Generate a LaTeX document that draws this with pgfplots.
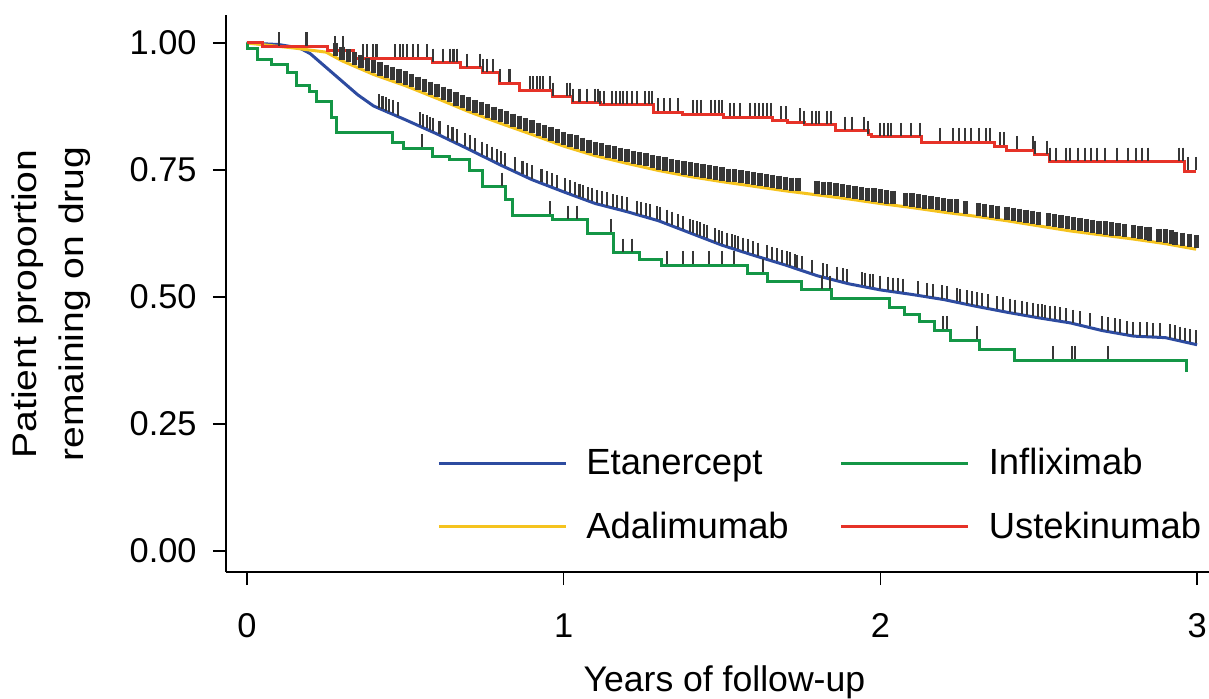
\documentclass[border=0pt]{standalone}
\usepackage{fontspec}
\setmainfont{Liberation Sans}
\usepackage{pgfplots}
\pgfplotsset{compat=1.18}
\usepackage{pgfplotstable}

\definecolor{etan}{RGB}{45,75,160}
\definecolor{adal}{RGB}{245,195,30}
\definecolor{infl}{RGB}{20,150,70}
\definecolor{uste}{RGB}{230,50,40}
\definecolor{cens}{RGB}{55,55,55}

% survival curves
\pgfplotstableread{
x y
0     1.000
0.10  0.997
0.167 0.990
0.20  0.979
0.25  0.952
0.30  0.925
0.35  0.898
0.40  0.876
0.50  0.849
0.60  0.821
0.70  0.791
0.80  0.760
0.90  0.731
1.00  0.707
1.10  0.684
1.20  0.668
1.30  0.650
1.40  0.626
1.50  0.602
1.60  0.582
1.70  0.563
1.80  0.542
1.90  0.526
2.00  0.514
2.10  0.505
2.20  0.495
2.30  0.482
2.40  0.470
2.50  0.459
2.60  0.449
2.70  0.434
2.80  0.423
2.90  0.420
3.00  0.406
}\etancurve

\pgfplotstableread{
x y
0     1.000
0.15  0.990
0.25  0.982
0.30  0.965
0.40  0.938
0.50  0.916
0.60  0.891
0.70  0.865
0.80  0.842
0.90  0.820
1.00  0.797
1.10  0.778
1.20  0.763
1.30  0.749
1.40  0.737
1.50  0.727
1.60  0.718
1.70  0.709
1.80  0.701
1.90  0.693
2.00  0.684
2.10  0.676
2.20  0.667
2.30  0.659
2.40  0.650
2.50  0.640
2.60  0.630
2.70  0.622
2.80  0.614
2.90  0.605
2.997 0.594
}\adalcurve

\pgfplotstableread{
x y
0     1.000
0.003 0.990
0.035 0.967
0.079 0.957
0.129 0.941
0.158 0.917
0.199 0.904
0.221 0.884
0.268 0.854
0.284 0.823
0.461 0.805
0.493 0.793
0.587 0.776
0.641 0.770
0.704 0.750
0.745 0.717
0.815 0.691
0.840 0.661
0.966 0.652
1.074 0.626
1.159 0.587
1.241 0.573
1.310 0.563
1.579 0.547
1.645 0.530
1.752 0.514
1.847 0.498
2.030 0.480
2.075 0.465
2.125 0.451
2.172 0.435
2.220 0.415
2.314 0.396
2.422 0.376
2.968 0.352
}\inflcurve

\pgfplotstableread{
x y
0     1.000
0.05  0.993
0.253 0.986
0.335 0.970
0.587 0.961
0.673 0.951
0.745 0.941
0.799 0.921
0.862 0.907
0.966 0.894
1.029 0.882
1.115 0.878
1.285 0.864
1.374 0.860
1.506 0.854
1.661 0.848
1.708 0.844
1.759 0.839
1.857 0.827
1.961 0.819
1.973 0.815
2.131 0.805
2.359 0.797
2.397 0.789
2.488 0.780
2.535 0.766
2.959 0.748
2.997 0.748
}\ustecurve

% censoring ticks
\pgfplotstableread{
x y
0.417 0.871
0.429 0.868
0.439 0.865
0.448 0.862
0.461 0.860
0.477 0.855
0.546 0.836
0.556 0.833
0.568 0.830
0.578 0.827
0.587 0.825
0.609 0.818
0.635 0.811
0.650 0.806
0.663 0.802
0.688 0.795
0.704 0.790
0.720 0.785
0.742 0.778
0.758 0.773
0.774 0.768
0.789 0.763
0.802 0.759
0.815 0.756
0.846 0.747
0.871 0.740
0.884 0.736
0.900 0.731
0.931 0.724
0.947 0.720
0.963 0.716
0.979 0.712
1.004 0.706
1.020 0.702
1.036 0.699
1.051 0.695
1.061 0.693
1.077 0.689
1.089 0.687
1.105 0.683
1.121 0.681
1.137 0.678
1.156 0.675
1.168 0.673
1.184 0.671
1.200 0.668
1.231 0.662
1.244 0.660
1.260 0.657
1.273 0.655
1.295 0.651
1.304 0.649
1.326 0.644
1.342 0.640
1.361 0.635
1.377 0.632
1.399 0.626
1.408 0.624
1.421 0.621
1.430 0.619
1.443 0.616
1.452 0.614
1.478 0.607
1.491 0.604
1.500 0.602
1.516 0.599
1.531 0.596
1.541 0.594
1.550 0.592
1.566 0.589
1.582 0.586
1.598 0.582
1.614 0.579
1.642 0.574
1.658 0.571
1.674 0.568
1.689 0.565
1.705 0.562
1.715 0.560
1.730 0.557
1.737 0.555
1.752 0.553
1.784 0.545
1.819 0.539
1.831 0.537
1.863 0.532
1.882 0.529
1.895 0.527
1.942 0.521
1.951 0.520
1.967 0.518
1.977 0.517
1.999 0.514
2.024 0.512
2.040 0.510
2.056 0.509
2.071 0.508
2.119 0.503
2.147 0.500
2.166 0.498
2.195 0.495
2.210 0.494
2.242 0.490
2.251 0.488
2.273 0.485
2.289 0.483
2.305 0.481
2.321 0.480
2.340 0.477
2.368 0.474
2.387 0.472
2.409 0.469
2.425 0.467
2.447 0.465
2.463 0.463
2.482 0.461
2.498 0.459
2.510 0.458
2.520 0.457
2.536 0.455
2.551 0.454
2.567 0.452
2.586 0.450
2.608 0.447
2.630 0.444
2.662 0.440
2.700 0.434
2.719 0.432
2.741 0.430
2.757 0.428
2.779 0.425
2.798 0.423
2.820 0.422
2.842 0.422
2.861 0.421
2.883 0.421
2.914 0.418
2.930 0.416
2.946 0.414
2.962 0.412
2.978 0.409
2.997 0.407
}\etancens

\pgfplotstableread{
x y
0.28 0.972
0.30 0.965
0.32 0.960
0.34 0.954
0.36 0.949
0.38 0.943
0.40 0.938
0.42 0.934
0.44 0.929
0.46 0.925
0.48 0.920
0.50 0.916
0.52 0.911
0.54 0.906
0.56 0.901
0.58 0.896
0.60 0.891
0.62 0.886
0.64 0.881
0.66 0.875
0.68 0.870
0.70 0.865
0.72 0.860
0.74 0.856
0.76 0.851
0.78 0.847
0.80 0.842
0.82 0.838
0.84 0.833
0.86 0.829
0.88 0.824
0.90 0.820
0.92 0.815
0.94 0.811
0.96 0.806
0.98 0.802
1.00 0.797
1.02 0.793
1.04 0.790
1.06 0.786
1.08 0.782
1.10 0.778
1.12 0.775
1.14 0.772
1.16 0.769
1.18 0.766
1.20 0.763
1.22 0.760
1.24 0.757
1.26 0.755
1.28 0.752
1.30 0.749
1.32 0.747
1.34 0.744
1.36 0.742
1.38 0.739
1.40 0.737
1.42 0.735
1.44 0.733
1.46 0.731
1.48 0.729
1.50 0.727
1.52 0.725
1.54 0.724
1.56 0.722
1.58 0.720
1.60 0.718
1.62 0.716
1.64 0.714
1.66 0.713
1.68 0.711
1.70 0.709
1.72 0.707
1.74 0.706
1.80 0.701
1.82 0.699
1.84 0.698
1.86 0.696
1.88 0.694
1.90 0.693
1.92 0.691
1.94 0.689
1.96 0.687
1.98 0.686
2.00 0.684
2.02 0.682
2.04 0.681
2.08 0.677
2.10 0.676
2.12 0.674
2.14 0.672
2.16 0.671
2.18 0.669
2.20 0.667
2.22 0.665
2.24 0.664
2.27 0.661
2.31 0.658
2.33 0.656
2.35 0.654
2.37 0.652
2.40 0.650
2.42 0.648
2.44 0.646
2.46 0.644
2.48 0.642
2.50 0.640
2.53 0.637
2.55 0.635
2.57 0.633
2.59 0.631
2.61 0.629
2.63 0.628
2.65 0.626
2.67 0.624
2.69 0.622
2.71 0.621
2.73 0.619
2.75 0.618
2.77 0.616
2.80 0.614
2.82 0.612
2.84 0.610
2.85 0.609
2.88 0.606
2.90 0.605
2.92 0.603
2.93 0.601
2.955 0.599
2.975 0.597
2.997 0.594
}\adalcens

\pgfplotstableread{
x y
0.553 0.793
0.805 0.717
0.957 0.661
1.014 0.652
1.042 0.652
1.150 0.626
1.187 0.587
1.216 0.587
1.326 0.563
1.377 0.563
1.408 0.563
1.459 0.563
1.500 0.563
1.538 0.563
1.629 0.547
1.816 0.514
1.841 0.514
2.198 0.435
2.210 0.435
2.305 0.415
2.545 0.376
2.605 0.376
2.614 0.376
2.719 0.376
}\inflcens

\pgfplotstableread{
x y
0.101 0.993
0.189 0.993
0.278 0.986
0.303 0.986
0.366 0.970
0.379 0.970
0.398 0.970
0.410 0.970
0.467 0.970
0.483 0.970
0.493 0.970
0.505 0.970
0.524 0.970
0.540 0.970
0.568 0.970
0.587 0.961
0.619 0.961
0.641 0.961
0.653 0.961
0.663 0.961
0.695 0.951
0.736 0.951
0.745 0.941
0.758 0.941
0.777 0.941
0.799 0.921
0.830 0.921
0.894 0.907
0.903 0.907
0.916 0.907
0.925 0.907
0.935 0.907
0.957 0.907
0.966 0.894
1.010 0.894
1.020 0.894
1.029 0.882
1.051 0.882
1.074 0.882
1.099 0.882
1.108 0.882
1.115 0.878
1.127 0.878
1.153 0.878
1.165 0.878
1.178 0.878
1.187 0.878
1.200 0.878
1.216 0.878
1.231 0.878
1.257 0.878
1.270 0.878
1.279 0.878
1.298 0.864
1.317 0.864
1.336 0.864
1.361 0.864
1.408 0.860
1.421 0.860
1.434 0.860
1.465 0.860
1.478 0.860
1.491 0.860
1.500 0.860
1.525 0.854
1.538 0.854
1.557 0.854
1.588 0.854
1.604 0.854
1.617 0.854
1.629 0.854
1.642 0.854
1.655 0.854
1.686 0.848
1.702 0.848
1.746 0.844
1.759 0.839
1.784 0.839
1.797 0.839
1.806 0.839
1.831 0.839
1.844 0.839
1.888 0.827
1.910 0.827
1.948 0.827
1.961 0.819
1.999 0.815
2.011 0.815
2.024 0.815
2.033 0.815
2.065 0.815
2.097 0.815
2.125 0.815
2.188 0.805
2.229 0.805
2.248 0.805
2.267 0.805
2.286 0.805
2.311 0.805
2.333 0.805
2.346 0.805
2.378 0.797
2.390 0.797
2.431 0.789
2.482 0.789
2.488 0.780
2.526 0.780
2.535 0.766
2.554 0.766
2.586 0.766
2.599 0.766
2.624 0.766
2.646 0.766
2.665 0.766
2.684 0.766
2.709 0.766
2.747 0.766
2.782 0.766
2.807 0.766
2.826 0.766
2.845 0.766
2.943 0.766
2.955 0.766
2.971 0.748
2.997 0.748
}\ustecens

\begin{document}
\begin{tikzpicture}
\begin{axis}[
    name=ax,
    scale only axis,
    width=491.5pt, height=278.5pt,
    xmin=-0.066, xmax=3.0376,
    ymin=-0.0413, ymax=1.0551,
    axis lines*=left,
    axis line style={line width=1pt, black},
    tick align=outside,
    major tick length=6.5pt,
    tick style={line width=0.8pt, black},
    xtick={0,1,2,3},
    ytick={0,0.25,0.5,0.75,1},
    /pgf/number format/assume math mode=true,
    y tick label style={/pgf/number format/.cd, fixed, fixed zerofill, precision=2, /tikz/.cd,
        font=\fontsize{17.2}{20}\selectfont, anchor=east, inner sep=0pt, xshift=-8pt},
    x tick label style={font=\fontsize{17.2}{20}\selectfont, anchor=base, inner sep=0pt, yshift=-26pt},
    xlabel={Years of follow-up},
    xlabel style={at={(rel axis cs:0.507,-0.2154)}, anchor=base, inner sep=0pt,
        font=\fontsize{17.8}{20}\selectfont},
    ylabel={Patient proportion\\remaining on drug},
    ylabel style={at={(rel axis cs:-0.178,0.481)}, anchor=center, align=center, inner sep=0pt,
        font=\fontsize{17}{23.5}\selectfont, xscale=1.15},
    legend columns=2,
    legend cell align=left,
    legend image code/.code={\draw[#1] (0pt,0pt) -- (63.5pt,0pt);},
    legend style={at={(rel axis cs:0.2147,0.2296)}, anchor=north west,
        draw=none, fill=none, inner sep=0pt,
        font=\fontsize{18.2}{21}\selectfont,
        row sep=13pt,
        /tikz/every odd column/.append style={column sep=7.5pt},
        /tikz/every even column/.append style={column sep=23.5pt}},
]
\addplot[etan, line width=1.5pt, forget plot] table {\etancurve};
\addplot[adal, line width=1.5pt, forget plot] table {\adalcurve};
\addplot[infl, line width=1.5pt, const plot, forget plot] table {\inflcurve};
\addplot[uste, line width=1.5pt, const plot, forget plot] table {\ustecurve};

\addplot[only marks, mark=|, mark size=3.3pt, forget plot,
    mark options={draw=cens, line width=2.6pt, yshift=3.8pt}] table {\adalcens};
\addplot[only marks, mark=|, mark size=3.3pt, forget plot,
    mark options={draw=cens, line width=1.3pt, yshift=3.8pt}] table {\etancens};
\addplot[only marks, mark=|, mark size=3.3pt, forget plot,
    mark options={draw=cens, line width=1pt, yshift=3.8pt}] table {\inflcens};
\addplot[only marks, mark=|, mark size=3.3pt, forget plot,
    mark options={draw=cens, line width=1.3pt, yshift=3.8pt}] table {\ustecens};

\addlegendimage{etan, line width=1.5pt}
\addlegendentry{Etanercept}
\addlegendimage{infl, line width=1.5pt}
\addlegendentry{Infliximab}
\addlegendimage{adal, line width=1.5pt}
\addlegendentry{Adalimumab}
\addlegendimage{uste, line width=1.5pt}
\addlegendentry{Ustekinumab}
\end{axis}
\pgfresetboundingbox
\path[use as bounding box] ([shift={(-113pt,-63pt)}]ax.south west) rectangle ([shift={(491.5pt,286pt)}]ax.south west);
\end{tikzpicture}
\end{document}
